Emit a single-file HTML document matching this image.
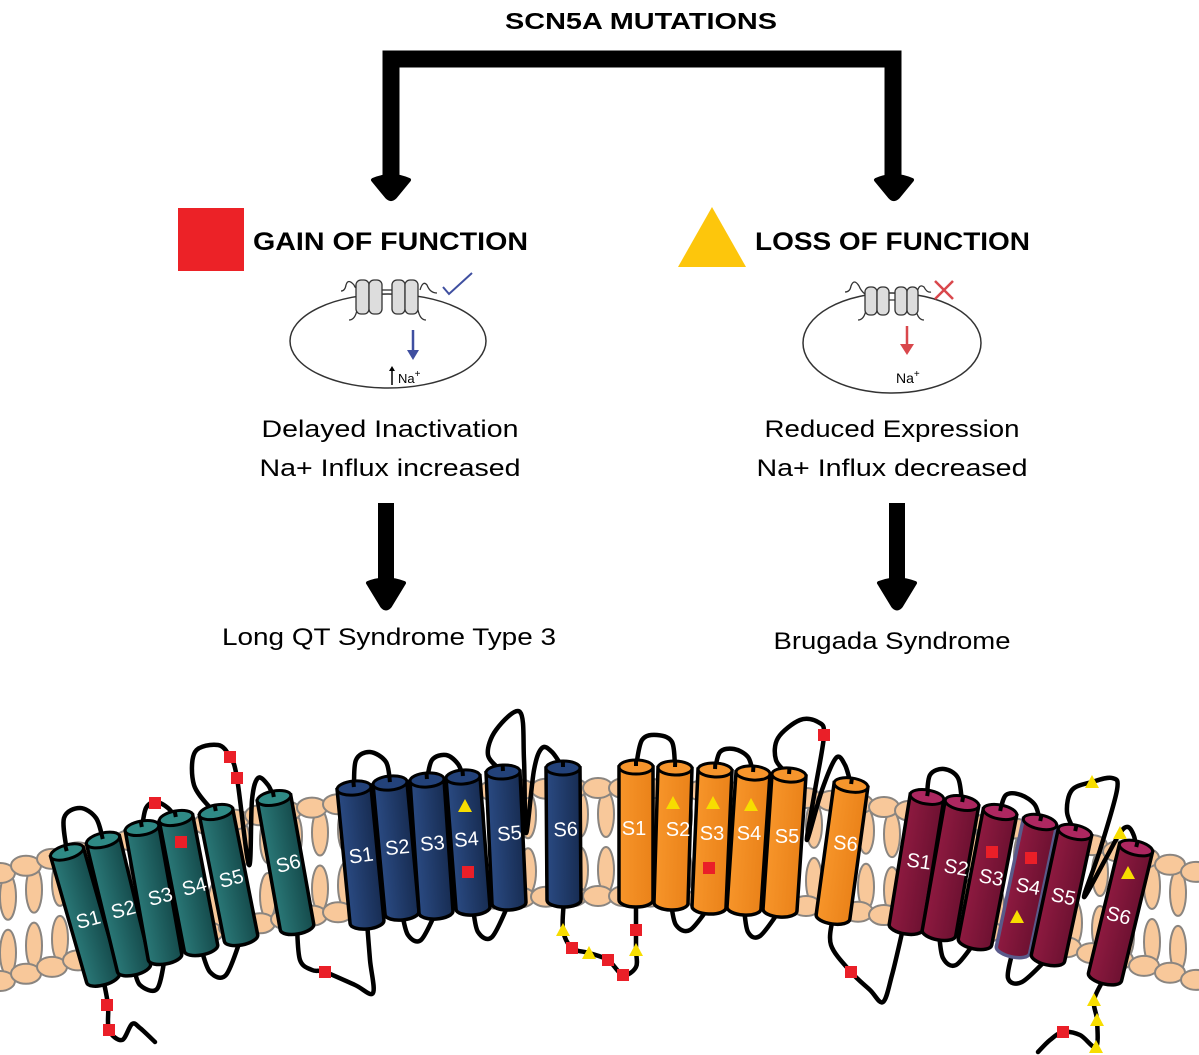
<!DOCTYPE html>
<html><head><meta charset="utf-8"><style>
html,body{margin:0;padding:0;background:#fff;}
svg{display:block;}
text{font-family:"Liberation Sans",Arial,sans-serif;}
</style></head><body>
<svg id="s" width="1199" height="1055" viewBox="0 0 1199 1055" xmlns="http://www.w3.org/2000/svg">
<rect width="1199" height="1055" fill="#fff"/>
<text x="641" y="29" font-size="23" font-weight="bold" text-anchor="middle" textLength="272" lengthAdjust="spacingAndGlyphs">SCN5A MUTATIONS</text>
<path d="M391,183 L391,59 L893,59 L893,183" fill="none" stroke="#000" stroke-width="17"/>
<path d="M373,180 Q391,172 409,180 L395,197 Q391,201 387,197 Z" fill="#000" stroke="#000" stroke-width="4" stroke-linejoin="round"/>
<path d="M876,180 Q894,172 912,180 L898,197 Q894,201 890,197 Z" fill="#000" stroke="#000" stroke-width="4" stroke-linejoin="round"/>
<rect x="178" y="208" width="66" height="63" fill="#ec2227"/>
<text x="253" y="250" font-size="25" font-weight="bold" textLength="275" lengthAdjust="spacingAndGlyphs">GAIN OF FUNCTION</text>
<polygon points="678,267 712,207 746,267" fill="#fdc60c"/>
<text x="755" y="250" font-size="25" font-weight="bold" textLength="275" lengthAdjust="spacingAndGlyphs">LOSS OF FUNCTION</text>
<ellipse cx="388" cy="341" rx="98" ry="47" fill="none" stroke="#333" stroke-width="1.5"/>
<g fill="#ddd" stroke="#333" stroke-width="1.3">
<path d="M341,291 q4,0 5,-6 q2,-7 8,0 q2,5 2,0" fill="none"/>
<path d="M420,290 q3,-10 7,-5 q3,8 10,8" fill="none"/>
<path d="M382,290 L392,290" fill="none"/>
<path d="M357,310 q-2,10 -8,10 M418,310 q2,10 8,10" fill="none"/>
<rect x="356" y="280" width="13" height="34" rx="5"/>
<rect x="369" y="280" width="13" height="34" rx="5"/>
<rect x="392" y="280" width="13" height="34" rx="5"/>
<rect x="405" y="280" width="13" height="34" rx="5"/>
</g>
<path d="M443,287 L449,294 L472,273" fill="none" stroke="#3f4fa0" stroke-width="2"/>
<line x1="413" y1="330" x2="413" y2="352" stroke="#3f4fa0" stroke-width="2.5"/>
<polygon points="407,350 419,350 413,360" fill="#3f4fa0"/>
<line x1="392" y1="385" x2="392" y2="369" stroke="#000" stroke-width="1.5"/>
<polygon points="389,371 395,371 392,366" fill="#000"/>
<text x="398" y="383" font-size="13">Na<tspan dy="-6" font-size="10">+</tspan></text>
<ellipse cx="892" cy="343" rx="89" ry="50" fill="none" stroke="#333" stroke-width="1.5"/>
<g fill="#ddd" stroke="#333" stroke-width="1.3">
<path d="M845,292 q5,0 6,-6 q3,-8 8,0 q2,5 6,8" fill="none"/>
<path d="M917,293 q2,-10 7,-6 q3,6 7,5" fill="none"/>
<path d="M877,300 L895,300" fill="none"/>
<path d="M866,310 q-2,10 -8,10 M916,310 q2,10 8,10" fill="none"/>
<rect x="865" y="287" width="12" height="28" rx="5"/>
<rect x="877" y="287" width="12" height="28" rx="5"/>
<rect x="895" y="287" width="12" height="28" rx="5"/>
<rect x="907" y="287" width="11" height="28" rx="5"/>
</g>
<path d="M935,281 L953,299 M953,281 L935,299" stroke="#d9474c" stroke-width="2.5"/>
<line x1="907" y1="326" x2="907" y2="346" stroke="#d9474c" stroke-width="2.5"/>
<polygon points="900,344 914,344 907,355" fill="#d9474c"/>
<text x="896" y="383" font-size="14">Na<tspan dy="-6" font-size="10">+</tspan></text>
<g font-size="24" text-anchor="middle">
<text x="390" y="437" textLength="257" lengthAdjust="spacingAndGlyphs">Delayed Inactivation</text>
<text x="390" y="476" textLength="261" lengthAdjust="spacingAndGlyphs">Na+ Influx increased</text>
<text x="892" y="437" textLength="255" lengthAdjust="spacingAndGlyphs">Reduced Expression</text>
<text x="892" y="476" textLength="271" lengthAdjust="spacingAndGlyphs">Na+ Influx decreased</text>
<text x="389" y="645" textLength="334" lengthAdjust="spacingAndGlyphs">Long QT Syndrome Type 3</text>
<text x="892" y="649" textLength="237" lengthAdjust="spacingAndGlyphs">Brugada Syndrome</text>
</g>
<rect x="378" y="503" width="16" height="82" fill="#000"/>
<path d="M368,583 Q386,576 404,583 L390,606 Q386,611 382,606 Z" fill="#000" stroke="#000" stroke-width="4" stroke-linejoin="round"/>
<rect x="889" y="503" width="16" height="82" fill="#000"/>
<path d="M879,583 Q897,576 915,583 L901,606 Q897,611 893,606 Z" fill="#000" stroke="#000" stroke-width="4" stroke-linejoin="round"/>
<g id="lip"></g>
<g id="loops"></g>
<g id="cyls"></g>
<g id="marks"></g>
<g fill="#fff" font-size="20" text-anchor="middle">
<text transform="translate(90,926) rotate(-15)">S1</text>
<text transform="translate(125,916) rotate(-15)">S2</text>
<text transform="translate(162,903) rotate(-15)">S3</text>
<text transform="translate(196,893) rotate(-15)">S4</text>
<text transform="translate(233,885) rotate(-15)">S5</text>
<text transform="translate(290,870) rotate(-15)">S6</text>
<text transform="translate(362,862) rotate(-8)">S1</text>
<text transform="translate(398,854) rotate(-6)">S2</text>
<text transform="translate(433,850) rotate(-5)">S3</text>
<text transform="translate(467,846) rotate(-5)">S4</text>
<text transform="translate(510,840) rotate(-5)">S5</text>
<text transform="translate(566,836) rotate(-3)">S6</text>
<text transform="translate(634,835)">S1</text>
<text transform="translate(678,836)">S2</text>
<text transform="translate(712,840)">S3</text>
<text transform="translate(749,840)">S4</text>
<text transform="translate(787,843)">S5</text>
<text transform="translate(845,850) rotate(5)">S6</text>
<text transform="translate(918,868) rotate(8)">S1</text>
<text transform="translate(955,874) rotate(10)">S2</text>
<text transform="translate(990,884) rotate(10)">S3</text>
<text transform="translate(1027,893) rotate(10)">S4</text>
<text transform="translate(1062,903) rotate(12)">S5</text>
<text transform="translate(1117,922) rotate(14)">S6</text>
</g>
</svg>
<script>
(function(){
var NS="http://www.w3.org/2000/svg";
function el(p,t,a){var e=document.createElementNS(NS,t);for(var k in a)e.setAttribute(k,a[k]);p.appendChild(e);return e;}
var lip=document.getElementById('lip');
function c(x){var u=(x-600)/600;return 842+85*u*u;}
var h=60,x;
for(x=8;x<1199;x+=26){var y=c(x);
 el(lip,'ellipse',{cx:x,cy:y-28,rx:8,ry:23,fill:'#f8c89a',stroke:'#8a8580','stroke-width':2});
 el(lip,'ellipse',{cx:x,cy:y+28,rx:8,ry:23,fill:'#f8c89a',stroke:'#8a8580','stroke-width':2});}
for(x=0;x<1210;x+=26){var y=c(x);
 el(lip,'ellipse',{cx:x,cy:y-h+6,rx:15,ry:10,fill:'#f8c89a',stroke:'#8a8580','stroke-width':2});
 el(lip,'ellipse',{cx:x,cy:y+h-6,rx:15,ry:10,fill:'#f8c89a',stroke:'#8a8580','stroke-width':2});}
function cr(pts){var d='M'+pts[0][0]+','+pts[0][1];
 for(var i=0;i<pts.length-1;i++){var p0=pts[i-1]||pts[i],p1=pts[i],p2=pts[i+1],p3=pts[i+2]||p2;
  d+=' C'+(p1[0]+(p2[0]-p0[0])/6)+','+(p1[1]+(p2[1]-p0[1])/6)+' '+(p2[0]-(p3[0]-p1[0])/6)+','+(p2[1]-(p3[1]-p1[1])/6)+' '+p2[0]+','+p2[1];}
 return d;}
var L=[
[[67,852],[64,818],[80,808],[96,818],[103,840]],
[[142,828],[146,808],[156,802],[168,808],[176,818]],
[[134,968],[140,985],[157,989],[165,957]],
[[201,948],[210,972],[226,975],[241,938]],
[[212,810],[194,785],[195,752],[218,745],[230,757],[237,778],[249,865],[252,800],[258,778],[268,785],[274,798]],
[[103,978],[108,1005],[109,1030],[122,1040],[132,1024],[140,1028],[155,1042]],
[[297,927],[300,960],[312,970],[325,972],[355,985],[373,993],[370,960],[367,922]],
[[354,788],[356,760],[370,752],[386,762],[390,783]],
[[427,780],[432,760],[446,755],[458,764],[463,777]],
[[402,913],[408,935],[421,940],[436,912]],
[[473,908],[478,932],[492,937],[509,903]],
[[503,772],[488,755],[496,730],[520,712],[524,760],[526,833],[534,770],[542,748],[552,752],[563,768]],
[[564,900],[563,930],[572,948],[589,953],[608,960],[623,975],[636,967],[636,950],[636,930],[636,903]],
[[636,767],[642,740],[657,735],[672,742],[675,768]],
[[715,770],[720,752],[734,749],[748,757],[753,773]],
[[671,903],[676,925],[690,930],[709,907]],
[[744,908],[748,932],[760,936],[780,910]],
[[789,775],[776,760],[778,738],[800,720],[818,722],[824,735],[815,790],[807,840],[822,790],[836,758],[845,765],[851,785]],
[[833,917],[831,945],[851,972],[870,990],[883,1002],[892,975],[902,933]],
[[927,797],[930,775],[944,769],[958,778],[962,803]],
[[1000,812],[1006,795],[1021,795],[1035,805],[1040,822]],
[[939,933],[943,958],[956,965],[975,942]],
[[1013,950],[1008,978],[1022,982],[1048,958]],
[[1075,832],[1067,812],[1072,790],[1092,782],[1112,778],[1117,790],[1100,850],[1084,897],[1105,860],[1120,833],[1128,827],[1134,836],[1136,848]],
[[1105,977],[1094,1000],[1097,1020],[1096,1047],[1080,1035],[1063,1032],[1050,1040],[1038,1052]]
];
var lg=document.getElementById('loops');
L.forEach(function(p){el(lg,'path',{d:cr(p),fill:'none',stroke:'#000','stroke-width':4.5,'stroke-linecap':'round','stroke-linejoin':'round'});});
var defs=el(document.getElementById('s'),'defs',{});
function grad(id,a,b){var g=el(defs,'linearGradient',{id:id,x1:0,y1:0,x2:1,y2:0});el(g,'stop',{offset:0,'stop-color':a});el(g,'stop',{offset:1,'stop-color':b});}
grad('gt','#2a7877','#154b4c');grad('gn','#2a4a82','#172c52');grad('go','#f7952a','#ea8219');grad('gm','#8e1a40','#6d1131');
var C=[
[67,852,103,978,'gt','#2f8a85'],[103,840,134,968,'gt','#2f8a85'],[142,828,165,957,'gt','#2f8a85'],[176,818,201,948,'gt','#2f8a85'],[216,812,241,938,'gt','#2f8a85'],[274,798,297,927,'gt','#2f8a85'],
[354,788,367,922,'gn','#23427a'],[390,783,402,913,'gn','#23427a'],[427,780,436,912,'gn','#23427a'],[463,777,473,908,'gn','#23427a'],[503,772,509,903,'gn','#23427a'],[563,768,564,900,'gn','#23427a'],
[636,767,636,900,'go','#f6952c'],[675,768,671,903,'go','#f6952c'],[715,770,709,907,'go','#f6952c'],[753,773,744,908,'go','#f6952c'],[789,775,780,910,'go','#f6952c'],[851,785,833,917,'go','#f6952c'],
[927,797,906,927,'gm','#ad2760'],[962,803,939,933,'gm','#ad2760'],[1000,812,975,942,'gm','#ad2760'],[1040,822,1013,950,'gm','#ad2760'],[1075,832,1048,958,'gm','#ad2760'],[1136,848,1105,977,'gm','#ad2760']
];
var cg=document.getElementById('cyls');
C.forEach(function(q,i){var dx=q[2]-q[0],dy=q[3]-q[1],len=Math.sqrt(dx*dx+dy*dy),a=Math.atan2(dx,dy)*180/Math.PI;
 var g=el(cg,'g',{transform:'translate('+q[0]+','+q[1]+') rotate('+(-a)+')'});
 var w=17;
 el(g,'path',{d:'M-'+w+',0 L-'+w+','+len+' A'+w+',7 0 0 0 '+w+','+len+' L'+w+',0 Z',fill:'url(#'+q[4]+')',stroke:(i==21?'#5a5a8a':'#000'),'stroke-width':3.5});
 el(g,'ellipse',{cx:0,cy:0,rx:w,ry:7,fill:q[5],stroke:'#000','stroke-width':3});
 el(g,'line',{x1:0,y1:-1,x2:0,y2:-8,stroke:'#000','stroke-width':4});
});
var mg=document.getElementById('marks');
function sq(x,y){el(mg,'rect',{x:x-6,y:y-6,width:12,height:12,fill:'#ea1f28'});}
function tri(x,y){el(mg,'polygon',{points:(x-7)+','+(y+6)+' '+x+','+(y-7)+' '+(x+7)+','+(y+6),fill:'#f7dd00'});}
[[155,803],[230,757],[237,778],[181,842],[107,1005],[109,1030],[325,972],[468,872],[572,948],[608,960],[623,975],[636,930],[709,868],[824,735],[851,972],[992,852],[1031,858],[1063,1032]].forEach(function(p){sq(p[0],p[1]);});
[[465,806],[563,930],[589,953],[636,950],[673,803],[713,803],[751,805],[1017,917],[1128,873],[1092,782],[1120,833],[1094,1000],[1097,1020],[1096,1047]].forEach(function(p){tri(p[0],p[1]);});
})();
</script>
</body></html>
